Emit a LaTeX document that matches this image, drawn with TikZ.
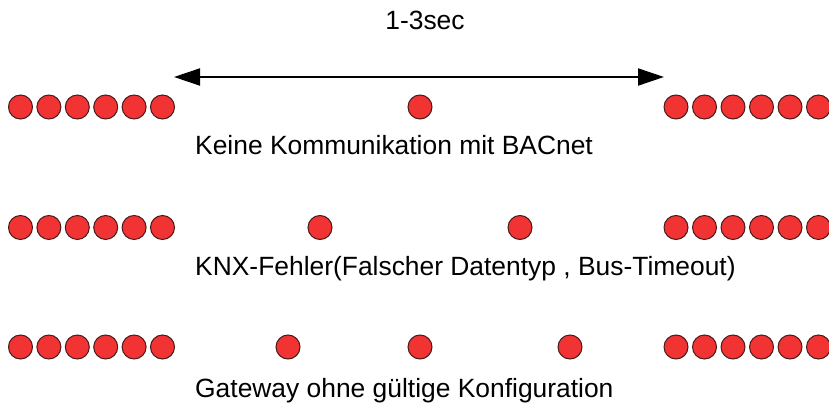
\documentclass[tikz,border=0pt]{standalone}
\usepackage{fontspec}
\setmainfont{Liberation Sans}
\usetikzlibrary{arrows.meta}
\definecolor{dotred}{HTML}{F23333}
\definecolor{dotedge}{HTML}{4A1A1A}
\tikzset{
  led/.style={circle, fill=dotred, draw=dotedge, line width=1pt, minimum size=24pt, inner sep=0pt},
  lbl/.style={anchor=base west, inner sep=0pt, font=\fontsize{26.4}{30}\selectfont},
  span/.style={line width=2pt, {Triangle[length=26pt,width=17pt]}-{Triangle[length=26pt,width=17pt]}},
}
\begin{document}
\begin{tikzpicture}[x=1pt,y=-1pt]
\useasboundingbox (0,0) rectangle (829,403);
% top label and arrow
\node[font=\fontsize{26.4}{30}\selectfont, inner sep=0pt, anchor=base] (t) at (425,30) {1-3sec};
\coordinate (aL) at (174,77);
\coordinate (aR) at (664,77);
\draw[span] (aL) -- (aR);
% row 1
\foreach \i in {0,...,5} {
  \node[led] (l1\i) at ({20.5+28.4*\i},107) {};
  \node[led] (r1\i) at ({676+28.5*\i},107) {};
}
\node[led] (m11) at (420,107) {};
\node[lbl] (k1) at (195,155) {Keine Kommunikation mit BACnet};
% row 2
\foreach \i in {0,...,5} {
  \node[led] (l2\i) at ({20.5+28.4*\i},227.5) {};
  \node[led] (r2\i) at ({676+28.5*\i},227.5) {};
}
\node[led] (m21) at (320,227.5) {};
\node[led] (m22) at (520,227.5) {};
\node[lbl] (k2) at (195,275) {KNX-Fehler(Falscher Datentyp , Bus-Timeout)};
% row 3
\foreach \i in {0,...,5} {
  \node[led] (l3\i) at ({20.5+28.4*\i},347) {};
  \node[led] (r3\i) at ({676+28.5*\i},347) {};
}
\node[led] (m31) at (288,347) {};
\node[led] (m32) at (420,347) {};
\node[led] (m33) at (570,347) {};
\node[lbl] (k3) at (195,397) {Gateway ohne gültige Konfiguration};
\end{tikzpicture}
\end{document}
